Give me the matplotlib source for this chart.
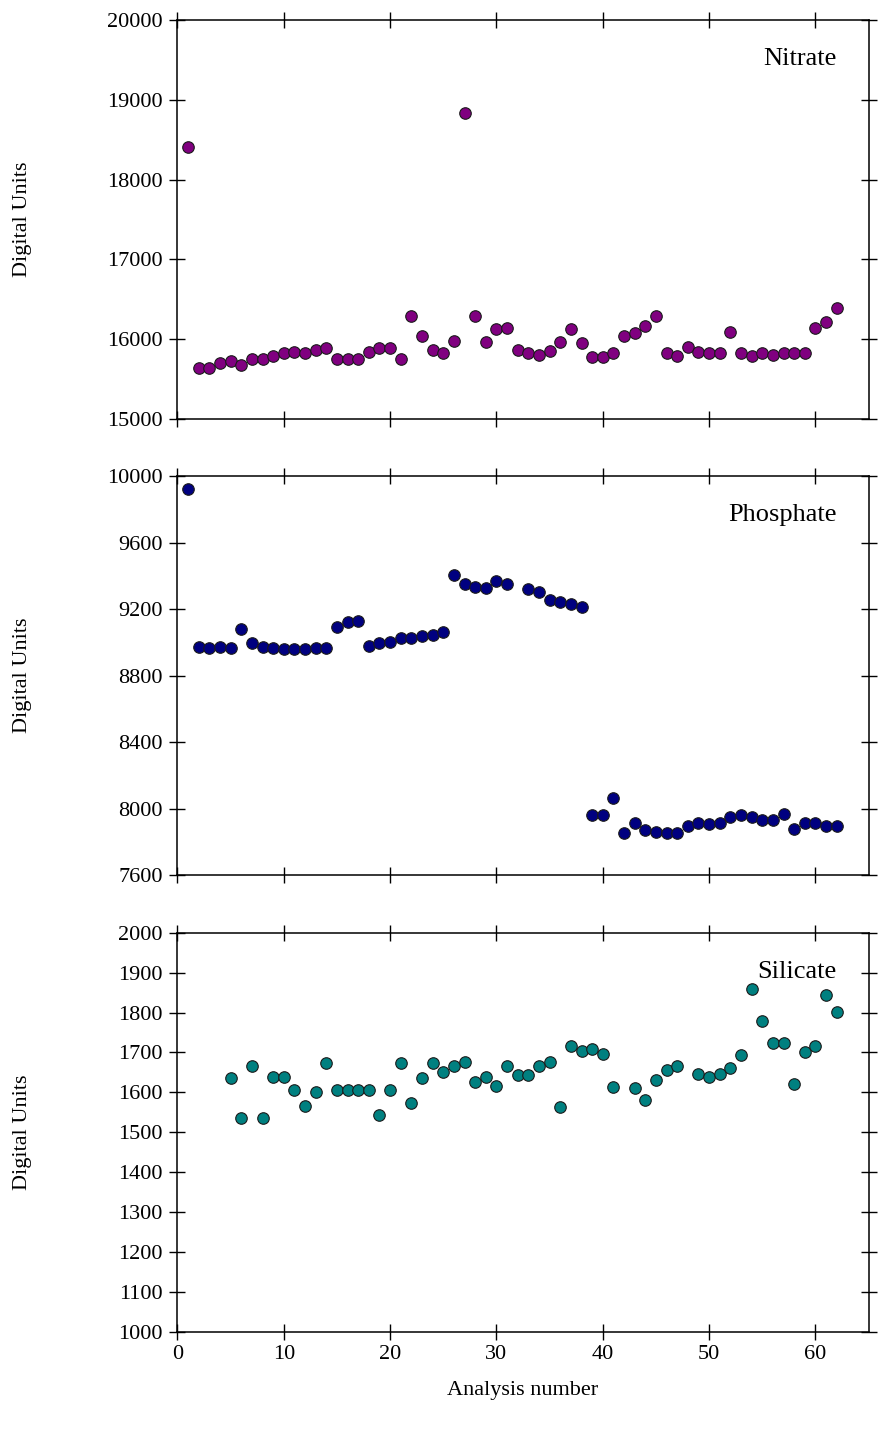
import numpy as np
import matplotlib.pyplot as plt

plt.rcParams['font.family'] = ['Liberation Serif', 'DejaVu Serif']

# analysis numbers and readings (digital units)
nitrate_x = list(range(1, 63))
nitrate_y = [18410, 15645, 15645, 15700, 15725, 15680, 15750, 15750, 15795, 15830,
             15845, 15825, 15860, 15890, 15750, 15750, 15750, 15845, 15895, 15895,
             15750, 16290, 16040, 15860, 15825, 15980, 18840, 16290, 15965, 16125,
             16145, 15865, 15825, 15805, 15855, 15970, 16125, 15950, 15780, 15780,
             15830, 16035, 16075, 16160, 16295, 15830, 15790, 15905, 15845, 15830,
             15830, 16095, 15830, 15790, 15830, 15805, 15830, 15830, 15830, 16145,
             16215, 16390]

phosphate_x = list(range(1, 32)) + list(range(33, 63))
phosphate_y = [9920, 8970, 8965, 8970, 8965, 9080, 8995, 8970, 8965, 8960,
               8958, 8958, 8965, 8965, 9095, 9120, 9128, 8980, 8995, 9000,
               9025, 9025, 9035, 9045, 9060, 9405, 9350, 9335, 9325, 9370,
               9350,
               9318, 9300, 9255, 9245, 9230, 9215, 7960, 7960, 8065, 7850,
               7915, 7870, 7860, 7855, 7855, 7895, 7910, 7905, 7915, 7947,
               7960, 7947, 7930, 7930, 7965, 7877, 7910, 7910, 7895, 7895]

silicate_x = list(range(5, 42)) + list(range(43, 48)) + list(range(49, 63))
silicate_y = [1637, 1536, 1666, 1536, 1639, 1639, 1607, 1565, 1600, 1673,
              1607, 1607, 1607, 1605, 1543, 1605, 1673, 1573, 1637, 1673,
              1651, 1665, 1676, 1626, 1639, 1616, 1665, 1644, 1643, 1666,
              1677, 1564, 1716, 1703, 1710, 1697, 1614,
              1611, 1580, 1631, 1657, 1666,
              1647, 1639, 1647, 1661, 1693, 1858, 1779, 1723, 1723, 1622,
              1702, 1716, 1844, 1801]

panels = [
    ('Nitrate', nitrate_x, nitrate_y, '#800080', (15000, 20000), np.arange(15000, 20001, 1000)),
    ('Phosphate', phosphate_x, phosphate_y, '#000080', (7600, 10000), np.arange(7600, 10001, 400)),
    ('Silicate', silicate_x, silicate_y, '#008080', (1000, 2000), np.arange(1000, 2001, 100)),
]

fig = plt.figure(figsize=(8.82, 14.34), dpi=100)
bottoms = [0.7078, 0.3898, 0.0713]
height = 0.2782

for i, (name, xs, ys, col, ylim, yt) in enumerate(panels):
    ax = fig.add_axes([0.2012, bottoms[i], 0.7836, height])
    ax.plot(xs, ys, 'o', color=col, ms=8.3, mec='#1a1a1a', mew=0.8, ls='none')
    ax.set_xlim(0, 65)
    ax.set_ylim(*ylim)
    ax.set_xticks(np.arange(0, 61, 10))
    ax.set_yticks(yt)
    ax.tick_params(direction='inout', length=11, width=1, top=True, right=True,
                   labelsize=16, pad=5)
    ax.tick_params(axis='x', pad=4)
    if i < 2:
        ax.tick_params(labelbottom=False)
    for sp in ax.spines.values():
        sp.set_linewidth(1.1)
    ax.set_ylabel('Digital Units', fontsize=16)
    ax.yaxis.set_label_coords(-0.211, 0.5)
    ax.text(0.954, 0.8875, name, transform=ax.transAxes, ha='right', va='baseline',
            fontsize=19)
    if i == 2:
        ax.set_xlabel('Analysis number', fontsize=16, labelpad=12)

fig.savefig('out.png', dpi=100)
